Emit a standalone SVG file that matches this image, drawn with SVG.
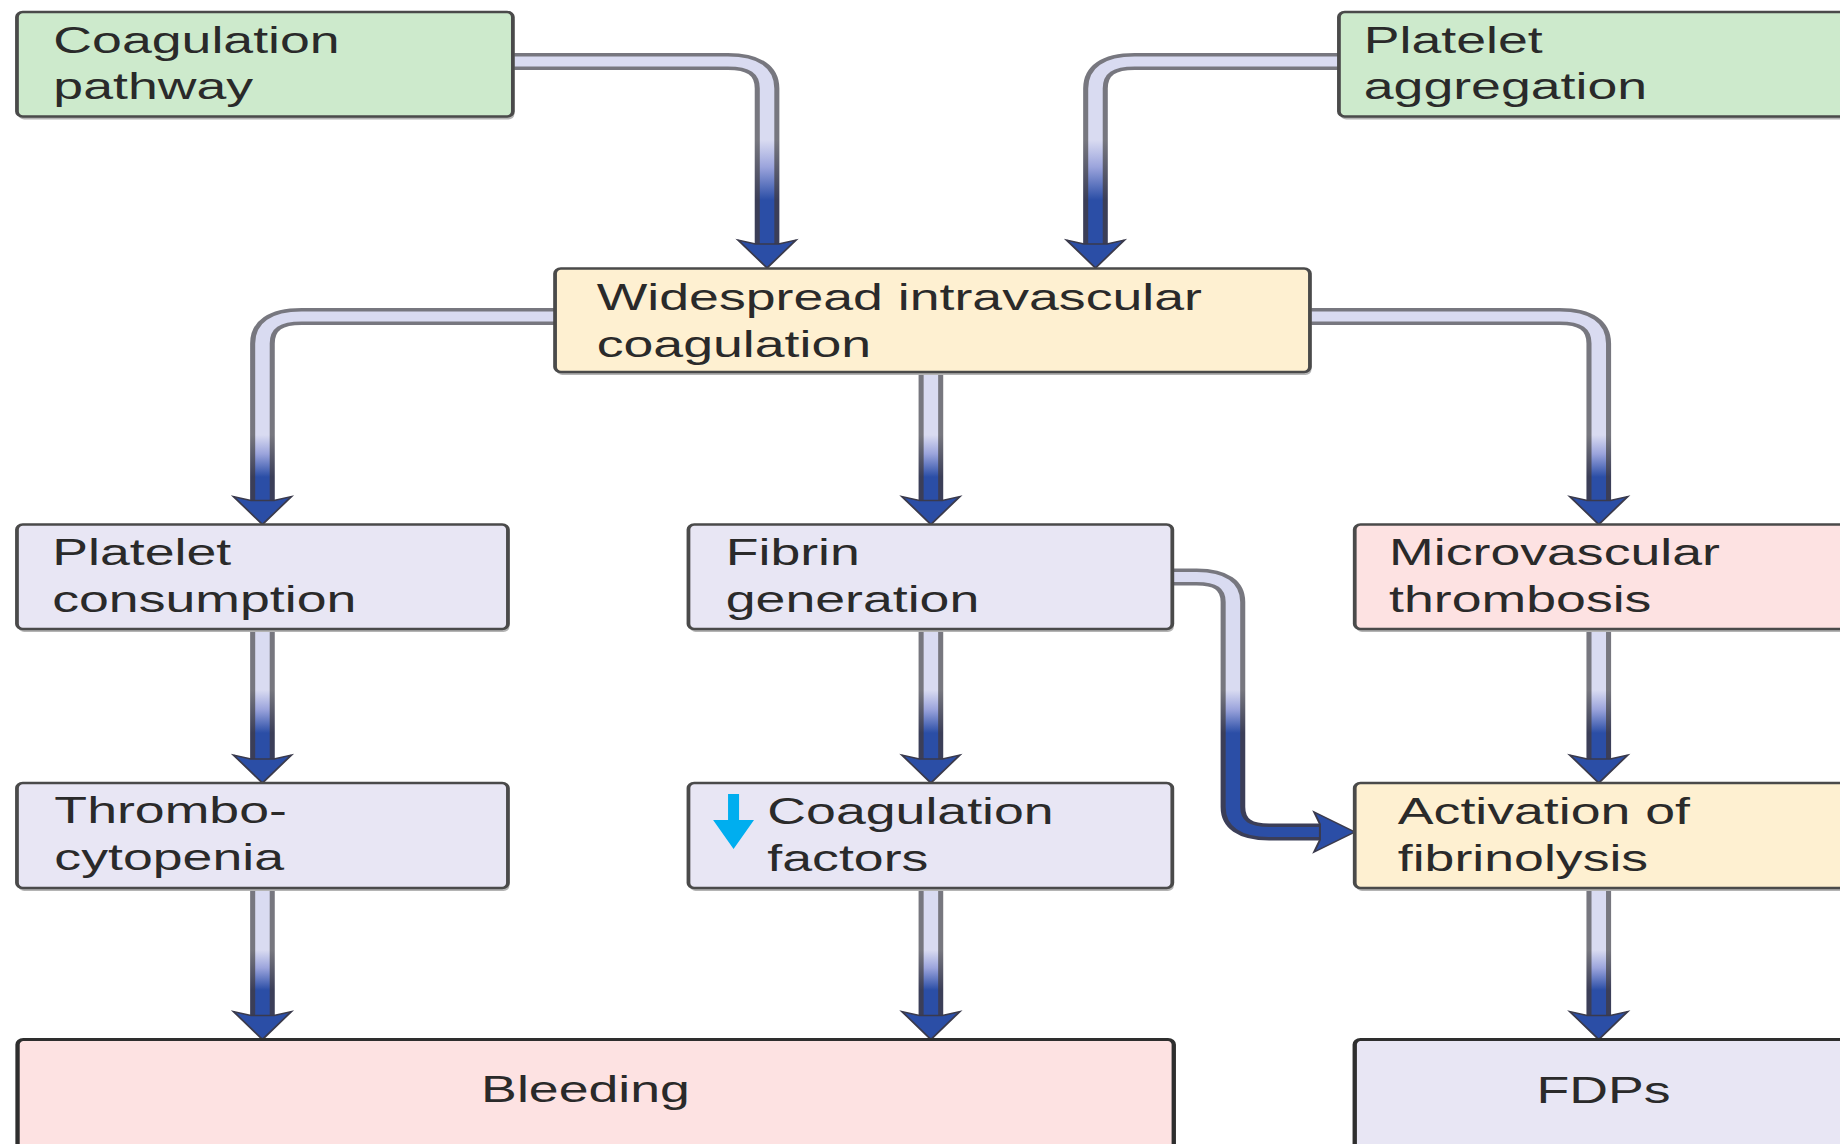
<svg xmlns="http://www.w3.org/2000/svg" width="1840" height="1144" viewBox="0 0 1840 1144">
<style>
  .box{stroke:#4a4a4a;stroke-width:2.6}
  .shadow{fill:#b4b4b4}
  .green{fill:#cdeacc}
  .yellow{fill:#fef0d1}
  .lav{fill:#e8e6f4}
  .pink{fill:#fde2e2}
  .bottom{stroke:#2e2e2e;stroke-width:3}
  text{font-family:"Liberation Sans",Arial,Helvetica,sans-serif;font-size:37px;fill:#2a2a2a}
  .c{text-anchor:middle}
  .to{fill:none;stroke-width:17;stroke-linejoin:round}
  .ti{fill:none;stroke-width:10;stroke-linejoin:round}
  .head{fill:#2b4ea6;stroke:#3a3a4c;stroke-width:1.4;stroke-linejoin:miter}
</style>
<defs>
  <linearGradient id="gi" gradientUnits="userSpaceOnUse" x1="0" x2="0" y1="0" y2="1">
    <stop offset="0" stop-color="#d9dbf1"/>
    <stop offset="0.45" stop-color="#9ba4dc"/>
    <stop offset="1" stop-color="#2b4ea6"/>
  </linearGradient>
  <linearGradient id="go" gradientUnits="userSpaceOnUse" x1="0" x2="0" y1="0" y2="1">
    <stop offset="0" stop-color="#77777f"/>
    <stop offset="1" stop-color="#3b3e58"/>
  </linearGradient>
  <linearGradient id="giA" href="#gi" gradientUnits="userSpaceOnUse" x1="0" x2="0" y1="140" y2="200"/>
  <linearGradient id="goA" href="#go" gradientUnits="userSpaceOnUse" x1="0" x2="0" y1="140" y2="200"/>
  <linearGradient id="giB" href="#gi" gradientUnits="userSpaceOnUse" x1="0" x2="0" y1="435" y2="477"/>
  <linearGradient id="goB" href="#go" gradientUnits="userSpaceOnUse" x1="0" x2="0" y1="435" y2="477"/>
  <linearGradient id="giC" href="#gi" gradientUnits="userSpaceOnUse" x1="0" x2="0" y1="690" y2="733"/>
  <linearGradient id="goC" href="#go" gradientUnits="userSpaceOnUse" x1="0" x2="0" y1="690" y2="733"/>
  <linearGradient id="giD" href="#gi" gradientUnits="userSpaceOnUse" x1="0" x2="0" y1="950" y2="990"/>
  <linearGradient id="goD" href="#go" gradientUnits="userSpaceOnUse" x1="0" x2="0" y1="950" y2="990"/>
  <path id="ah" class="head" d="M-20,-28 L0,0 L20,-28 L8,-24 L-8,-24 Z"/>
</defs>
<rect width="1840" height="1144" fill="#ffffff"/>
<g transform="scale(1.45 1)">
  <g id="connectors">
    <!-- Coagulation pathway -> Widespread -->
    <path class="to" stroke="url(#goA)" d="M353.8 61.5 H502 Q529 61.5 529 88.5 V246"/>
    <path class="ti" stroke="url(#giA)" d="M353.8 61.5 H502 Q529 61.5 529 88.5 V246"/>
    <use href="#ah" x="529" y="268"/>
    <!-- Platelet aggregation -> Widespread -->
    <path class="to" stroke="url(#goA)" d="M923.4 61.5 H782.5 Q755.5 61.5 755.5 88.5 V246"/>
    <path class="ti" stroke="url(#giA)" d="M923.4 61.5 H782.5 Q755.5 61.5 755.5 88.5 V246"/>
    <use href="#ah" x="755.5" y="268"/>
    <!-- Widespread -> Platelet consumption -->
    <path class="to" stroke="url(#goB)" d="M382.8 316.5 H208 Q181 316.5 181 343.5 V502"/>
    <path class="ti" stroke="url(#giB)" d="M382.8 316.5 H208 Q181 316.5 181 343.5 V502"/>
    <use href="#ah" x="181" y="524.5"/>
    <!-- Widespread -> Fibrin generation -->
    <path class="to" stroke="url(#goB)" d="M642 372 V502"/>
    <path class="ti" stroke="url(#giB)" d="M642 372 V502"/>
    <use href="#ah" x="642" y="524.5"/>
    <!-- Widespread -> Microvascular thrombosis -->
    <path class="to" stroke="url(#goB)" d="M903.4 316.5 H1075.6 Q1102.6 316.5 1102.6 343.5 V502"/>
    <path class="ti" stroke="url(#giB)" d="M903.4 316.5 H1075.6 Q1102.6 316.5 1102.6 343.5 V502"/>
    <use href="#ah" x="1102.6" y="524.5"/>
    <!-- Platelet consumption -> Thrombocytopenia -->
    <path class="to" stroke="url(#goC)" d="M181 629 V761"/>
    <path class="ti" stroke="url(#giC)" d="M181 629 V761"/>
    <use href="#ah" x="181" y="783"/>
    <!-- Fibrin generation -> Coagulation factors -->
    <path class="to" stroke="url(#goC)" d="M642 629 V761"/>
    <path class="ti" stroke="url(#giC)" d="M642 629 V761"/>
    <use href="#ah" x="642" y="783"/>
    <!-- Microvascular thrombosis -> Activation of fibrinolysis -->
    <path class="to" stroke="url(#goC)" d="M1102.6 629 V761"/>
    <path class="ti" stroke="url(#giC)" d="M1102.6 629 V761"/>
    <use href="#ah" x="1102.6" y="783"/>
    <!-- Fibrin generation -> Activation of fibrinolysis -->
    <path class="to" stroke="url(#goC)" d="M808.5 577 H825.3 Q850.3 577 850.3 602 V807 Q850.3 832 875.3 832 H912"/>
    <path class="ti" stroke="url(#giC)" d="M808.5 577 H825.3 Q850.3 577 850.3 602 V807 Q850.3 832 875.3 832 H912"/>
    <use href="#ah" transform="translate(934.3 832) rotate(-90)"/>
    <!-- Thrombocytopenia -> Bleeding -->
    <path class="to" stroke="url(#goD)" d="M181 888 V1017"/>
    <path class="ti" stroke="url(#giD)" d="M181 888 V1017"/>
    <use href="#ah" x="181" y="1039.5"/>
    <!-- Coagulation factors -> Bleeding -->
    <path class="to" stroke="url(#goD)" d="M642 888 V1017"/>
    <path class="ti" stroke="url(#giD)" d="M642 888 V1017"/>
    <use href="#ah" x="642" y="1039.5"/>
    <!-- Activation of fibrinolysis -> FDPs -->
    <path class="to" stroke="url(#goD)" d="M1102.6 888 V1017"/>
    <path class="ti" stroke="url(#giD)" d="M1102.6 888 V1017"/>
    <use href="#ah" x="1102.6" y="1039.5"/>
  </g>

  <g id="coagulation-pathway">
    <rect class="shadow" x="12.7" y="15" width="342" height="104.5" rx="4" ry="5"/>
    <rect class="box green" x="11.7" y="12" width="342" height="104.5" rx="4" ry="5"/>
    <text x="36.8" y="53">Coagulation</text>
    <text x="36.8" y="99.5">pathway</text>
  </g>
  <g id="platelet-aggregation">
    <rect class="shadow" x="924.4" y="15" width="360" height="104.5" rx="4" ry="5"/>
    <rect class="box green" x="923.4" y="12" width="360" height="104.5" rx="4" ry="5"/>
    <text x="940.5" y="53">Platelet</text>
    <text x="940.5" y="99.5">aggregation</text>
  </g>
  <g id="widespread-coagulation">
    <rect class="shadow" x="383.8" y="271.5" width="520.6" height="103.5" rx="4" ry="5"/>
    <rect class="box yellow" x="382.8" y="268.5" width="520.6" height="103.5" rx="4" ry="5"/>
    <text x="411.5" y="310.5">Widespread intravascular</text>
    <text x="411.5" y="357">coagulation</text>
  </g>
  <g id="platelet-consumption">
    <rect class="shadow" x="12.7" y="527.5" width="338.6" height="104.5" rx="4" ry="5"/>
    <rect class="box lav" x="11.7" y="524.5" width="338.6" height="104.5" rx="4" ry="5"/>
    <text x="36" y="565">Platelet</text>
    <text x="36" y="612">consumption</text>
  </g>
  <g id="fibrin-generation">
    <rect class="shadow" x="475.8" y="527.5" width="333.7" height="104.5" rx="4" ry="5"/>
    <rect class="box lav" x="474.8" y="524.5" width="333.7" height="104.5" rx="4" ry="5"/>
    <text x="500.5" y="565">Fibrin</text>
    <text x="500.5" y="612.5">generation</text>
  </g>
  <g id="microvascular-thrombosis">
    <rect class="shadow" x="935.3" y="527.5" width="350" height="104.5" rx="4" ry="5"/>
    <rect class="box pink" x="934.3" y="524.5" width="350" height="104.5" rx="4" ry="5"/>
    <text x="958" y="565">Microvascular</text>
    <text x="958" y="612">thrombosis</text>
  </g>
  <g id="thrombocytopenia">
    <rect class="shadow" x="12.7" y="786" width="338.6" height="105" rx="4" ry="5"/>
    <rect class="box lav" x="11.7" y="783" width="338.6" height="105" rx="4" ry="5"/>
    <text x="37.5" y="823">Thrombo-</text>
    <text x="37.5" y="870">cytopenia</text>
  </g>
  <g id="coagulation-factors">
    <rect class="shadow" x="475.8" y="786" width="333.7" height="105" rx="4" ry="5"/>
    <rect class="box lav" x="474.8" y="783" width="333.7" height="105" rx="4" ry="5"/>
    <polygon fill="#00aeef" points="502.1,794 509.7,794 509.7,820 520,820 505.9,849 491.8,820 502.1,820"/>
    <text x="529.2" y="824">Coagulation</text>
    <text x="529.2" y="871">factors</text>
  </g>
  <g id="activation-fibrinolysis">
    <rect class="shadow" x="935.3" y="786" width="350" height="105" rx="4" ry="5"/>
    <rect class="box yellow" x="934.3" y="783" width="350" height="105" rx="4" ry="5"/>
    <text x="964" y="824">Activation of</text>
    <text x="964" y="871">fibrinolysis</text>
  </g>
  <g id="bleeding">
    <rect class="pink bottom" x="12.1" y="1039.5" width="797.4" height="130" rx="4" ry="5"/>
    <text class="c" x="403.8" y="1102">Bleeding</text>
  </g>
  <g id="fdps">
    <rect class="lav bottom" x="934.3" y="1039.5" width="350" height="130" rx="4" ry="5"/>
    <text class="c" x="1105.9" y="1103">FDPs</text>
  </g>
</g>
</svg>
